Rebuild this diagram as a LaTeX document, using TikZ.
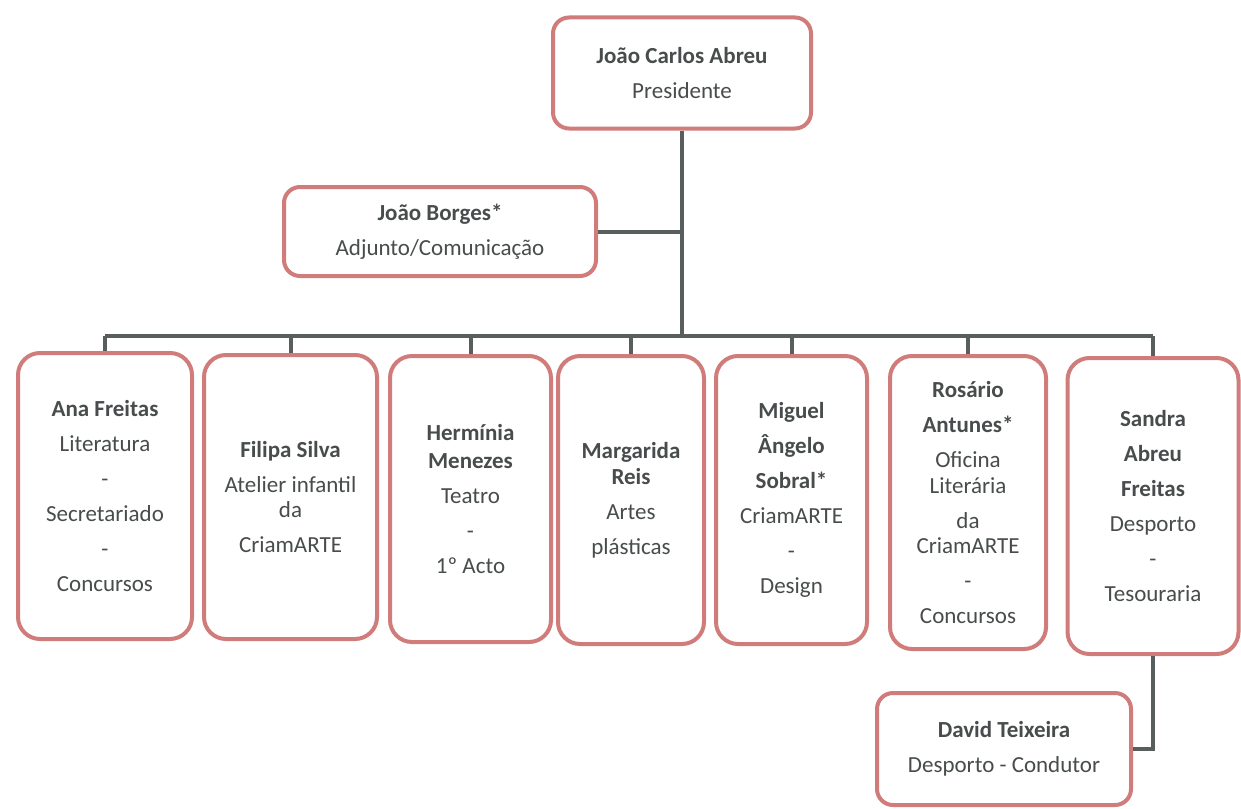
\documentclass[tikz,border=0pt]{standalone}
\usepackage{fontspec}
\setmainfont{Carlito}
\definecolor{boxred}{RGB}{208,124,122}
\definecolor{linegray}{RGB}{88,94,94}
\definecolor{txtgray}{RGB}{72,76,76}
\begin{document}
\begin{tikzpicture}[x=1pt,y=-1pt,
  orgbox/.style={draw=boxred,line width=4pt,rounded corners=22pt,fill=white,
    align=center,text=txtgray,inner sep=0pt,
    font=\fontsize{23}{35}\selectfont},
  conn/.style={draw=linegray,line width=4pt}]
\useasboundingbox (0,0) rectangle (1241,808);
% nodes
\node[orgbox,rounded corners=16pt,minimum width=258pt,minimum height=111pt] (pres) at (682,73)
  {\textbf{João Carlos Abreu}\\Presidente};
\node[orgbox,rounded corners=16pt,minimum width=312pt,minimum height=89pt] (borges) at (440,231.5)
  {\textbf{João Borges*}\\Adjunto/Comunicação};
\node[orgbox,minimum width=174pt,minimum height=286pt] (ana) at (105,496)
  {\textbf{Ana Freitas}\\Literatura\\-\\Secretariado\\-\\Concursos};
\node[orgbox,minimum width=173pt,minimum height=284pt] (filipa) at (290.5,497)
  {\textbf{Filipa Silva}\\Atelier infantil\\[-10pt]da\\CriamARTE};
\node[orgbox,minimum width=161pt,minimum height=286pt] (herminia) at (470.5,499)
  {\textbf{Hermínia}\\[-7pt]\textbf{Menezes}\\Teatro\\-\\1º Acto};
\node[orgbox,minimum width=146pt,minimum height=288pt] (margarida) at (631,500)
  {\textbf{Margarida}\\[-9pt]\textbf{Reis}\\Artes\\plásticas};
\node[orgbox,minimum width=151pt,minimum height=288pt] (miguel) at (791.5,500)
  {\textbf{Miguel}\\\textbf{Ângelo}\\\textbf{Sobral*}\\CriamARTE\\-\\Design};
\node[orgbox,minimum width=156pt,minimum height=293pt] (rosario) at (968,502.5)
  {\textbf{Rosário}\\\textbf{Antunes*}\\Oficina\\[-9pt]Literária\\da\\[-10pt]CriamARTE\\-\\Concursos};
\node[orgbox,minimum width=171pt,minimum height=296pt] (sandra) at (1153,506)
  {\textbf{Sandra}\\\textbf{Abreu}\\\textbf{Freitas}\\Desporto\\-\\Tesouraria};
\node[orgbox,rounded corners=16pt,minimum width=254pt,minimum height=112pt] (david) at (1004,749)
  {\textbf{David Teixeira}\\Desporto - Condutor};
% bus coordinates
\coordinate (busc) at (682,336);
\coordinate (busL) at (ana.north |- busc);
\coordinate (busR) at (sandra.north |- busc);
% connectors
\begin{scope}[on background layer/.style={}]
\draw[conn] (pres.south) -- (busc);
\draw[conn] (borges.east) -- (borges.east -| busc);
\draw[conn] (busL) -- (busR);
\foreach \n in {ana,filipa,herminia,margarida,miguel,rosario,sandra}
  \draw[conn] (\n.north) -- (\n.north |- busc);
\draw[conn] (sandra.south) |- (david.east);
\end{scope}
\end{tikzpicture}
\end{document}
